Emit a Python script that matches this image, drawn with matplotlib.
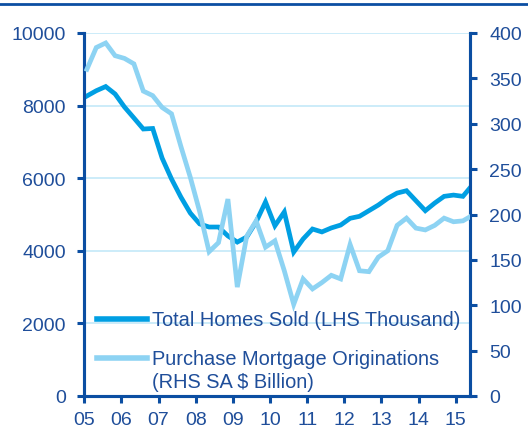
import numpy as np
import matplotlib
matplotlib.use("Agg")
import matplotlib.pyplot as plt
from matplotlib.lines import Line2D

# quarterly data, 2005Q1 onwards
homes_sold = [8265, 8410, 8525, 8320, 7960, 7660, 7355, 7370, 6555, 5980,
              5480, 5040, 4740, 4655, 4655, 4410, 4240, 4380, 4795, 5345,
              4690, 5070, 3965, 4325, 4600, 4520, 4630, 4710, 4895, 4950,
              5105, 5260, 5445, 5590, 5655, 5380, 5105, 5315, 5500, 5535,
              5500, 5810]
mortgage_orig = [360, 384, 389, 375, 372, 366, 336, 331, 318, 311,
                 275, 241, 203, 159, 169, 217, 120, 176, 193, 164,
                 171, 138, 101, 129, 118, 125, 133, 129, 167, 138,
                 137, 153, 160, 188, 196, 185, 183, 188, 196, 192,
                 193, 199]
years = list(range(2005, 2016))
year_labels = ["05", "06", "07", "08", "09", "10", "11", "12", "13", "14", "15"]

dark = "#009FE3"
light = "#8DD3F3"
navy = "#0B4EA2"
txt = "#1F4E9A"

plt.rcParams["font.family"] = ["Liberation Sans", "DejaVu Sans"]

fig = plt.figure(figsize=(5.28, 4.31), dpi=100)
ax = fig.add_axes([84 / 528, 1 - 397 / 431, 386 / 528, 363 / 431])
ax2 = ax.twinx()

x = 2005.07 + np.arange(len(homes_sold)) * 0.2531

ax.plot(x, homes_sold, color=dark, lw=3.4, solid_joinstyle="miter", zorder=3)
ax2.plot(x, mortgage_orig, color=light, lw=3.4, solid_joinstyle="miter", zorder=3)

ax.set_xlim(2004.992, 2015.385)
ax.set_ylim(0, 10000)
ax2.set_ylim(0, 400)
ax.set_xticks(years)
ax.set_xticklabels(year_labels)
ax.set_yticks(range(0, 10001, 2000))
ax2.set_yticks(range(0, 401, 50))

ax.grid(axis="y", color="#C8EAF9", lw=1.3, zorder=0)
ax.set_axisbelow(True)

for a in (ax, ax2):
    a.spines["top"].set_visible(False)
    for s in ("left", "right", "bottom"):
        a.spines[s].set_color(navy)
        a.spines[s].set_linewidth(2.2)
    a.tick_params(colors=navy, labelcolor=txt, labelsize=14, width=2.2, length=5)
ax.tick_params(axis="y", pad=8)
ax.tick_params(axis="x", pad=6)
ax2.tick_params(axis="y", pad=9)

# legend drawn by hand to keep the two-line label layout
ax.plot([0.034, 0.163], [0.212, 0.212], transform=ax.transAxes, color=dark, lw=4, clip_on=False)
ax.text(0.176, 0.212, "Total Homes Sold (LHS Thousand)", transform=ax.transAxes,
        va="center", ha="left", fontsize=14.4, color=txt)
ax.plot([0.034, 0.163], [0.105, 0.105], transform=ax.transAxes, color=light, lw=4, clip_on=False)
ax.text(0.176, 0.0716, "Purchase Mortgage Originations\n(RHS SA $ Billion)", transform=ax.transAxes,
        va="center", ha="left", fontsize=14.4, color=txt, linespacing=1.25)

fig.add_artist(Line2D([0, 1], [0.9877, 0.9877], transform=fig.transFigure, color=navy, lw=2))

fig.savefig("out.png", dpi=100)
